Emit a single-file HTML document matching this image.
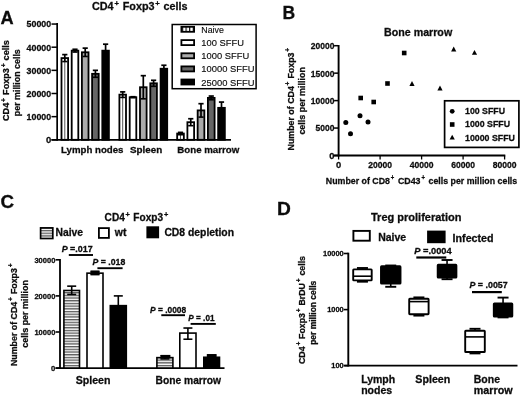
<!DOCTYPE html>
<html lang="en"><head><meta charset="utf-8"><title>Figure</title>
<style>
html,body{margin:0;padding:0;background:#fff;}
body{width:520px;height:395px;overflow:hidden;}
svg{display:block;filter:blur(0.45px);}
svg text{font-family:"Liberation Sans",Arial,sans-serif;fill:#0c0c0c;}
svg text[font-weight="bold"]{stroke:#0c0c0c;stroke-width:0.28px;}
</style></head><body>
<svg width="520" height="395" viewBox="0 0 520 395">
<defs>
<pattern id="vst" patternUnits="userSpaceOnUse" width="4.4" height="8" x="0" y="0"><rect width="4.4" height="8" fill="#fff"/><rect x="0" width="1.1" height="8" fill="#444"/></pattern>
<pattern id="hst" patternUnits="userSpaceOnUse" width="8" height="2.7" y="0.4"><rect width="8" height="2.7" fill="#fff"/><rect y="0" width="8" height="1.35" fill="#5a5a5a"/></pattern>
<pattern id="vst2" patternUnits="userSpaceOnUse" width="3.6" height="8" x="181.9" y="0"><rect width="3.6" height="8" fill="#fff"/><rect x="0" width="1.2" height="8" fill="#111"/></pattern>
</defs>
<rect width="520" height="395" fill="#fff"/>

<g id="panelA">
<text x="0.6" y="23.7" font-size="18.2" font-weight="bold" text-anchor="start" >A</text>
<text x="92" y="9.8" font-size="10.8" font-weight="bold">CD4<tspan dx="0.8" dy="-4.3" font-size="7.6">+</tspan><tspan dx="0.9" dy="4.3"> </tspan>Foxp3<tspan dx="0.8" dy="-4.3" font-size="7.6">+</tspan><tspan dx="0.6" dy="4.3"> </tspan>cells</text>
<text x="9.3" y="121" font-size="9.1" font-weight="bold" transform="rotate(-90 9.3 121)">CD4<tspan dx="0.8" dy="-3.6" font-size="6.8">+</tspan><tspan dx="0.6" dy="3.6"> </tspan>Foxp3<tspan dx="0.8" dy="-3.6" font-size="6.8">+</tspan><tspan dx="0.4" dy="3.6"> </tspan>cells</text>
<text x="19.8" y="116.2" font-size="9.1" font-weight="bold" textLength="67" lengthAdjust="spacingAndGlyphs" transform="rotate(-90 19.8 116.2)">per million cells</text>
<line x1="57.15" y1="22.9" x2="57.15" y2="140.65" stroke="#000" stroke-width="1.7"/>
<line x1="51.5" y1="139.8" x2="231" y2="139.8" stroke="#000" stroke-width="1.7"/>
<line x1="51.5" y1="139.8" x2="57.5" y2="139.8" stroke="#000" stroke-width="1.5"/>
<text x="51.2" y="143.20000000000002" font-size="9.5" font-weight="bold" text-anchor="end" >0</text>
<line x1="51.5" y1="116.65" x2="57.5" y2="116.65" stroke="#000" stroke-width="1.5"/>
<text x="51.2" y="120.05000000000001" font-size="9.5" font-weight="bold" text-anchor="end" textLength="24.6" lengthAdjust="spacingAndGlyphs" >10000</text>
<line x1="51.5" y1="93.50000000000001" x2="57.5" y2="93.50000000000001" stroke="#000" stroke-width="1.5"/>
<text x="51.2" y="96.90000000000002" font-size="9.5" font-weight="bold" text-anchor="end" textLength="24.6" lengthAdjust="spacingAndGlyphs" >20000</text>
<line x1="51.5" y1="70.35000000000002" x2="57.5" y2="70.35000000000002" stroke="#000" stroke-width="1.5"/>
<text x="51.2" y="73.75000000000003" font-size="9.5" font-weight="bold" text-anchor="end" textLength="24.6" lengthAdjust="spacingAndGlyphs" >30000</text>
<line x1="51.5" y1="47.20000000000002" x2="57.5" y2="47.20000000000002" stroke="#000" stroke-width="1.5"/>
<text x="51.2" y="50.600000000000016" font-size="9.5" font-weight="bold" text-anchor="end" textLength="24.6" lengthAdjust="spacingAndGlyphs" >40000</text>
<line x1="51.5" y1="24.050000000000026" x2="57.5" y2="24.050000000000026" stroke="#000" stroke-width="1.5"/>
<text x="51.2" y="27.450000000000024" font-size="9.5" font-weight="bold" text-anchor="end" textLength="24.6" lengthAdjust="spacingAndGlyphs" >50000</text>
<line x1="64.8" y1="54.60800000000002" x2="64.8" y2="61.553000000000026" stroke="#000" stroke-width="1.7"/>
<line x1="62.199999999999996" y1="54.60800000000002" x2="67.39999999999999" y2="54.60800000000002" stroke="#000" stroke-width="1.7"/>
<rect x="61.5" y="58.080500000000015" width="6.6" height="81.7195" fill="#fff" stroke="#000" stroke-width="1.8"/>
<line x1="64.8" y1="58.78050000000002" x2="64.8" y2="139.10000000000002" stroke="#555" stroke-width="1.0"/>
<line x1="64.8" y1="58.080500000000015" x2="64.8" y2="61.553000000000026" stroke="#000" stroke-width="1.7"/>
<line x1="62.199999999999996" y1="61.553000000000026" x2="67.39999999999999" y2="61.553000000000026" stroke="#000" stroke-width="1.6"/>
<line x1="75.0" y1="49.28350000000002" x2="75.0" y2="52.061500000000024" stroke="#000" stroke-width="1.7"/>
<line x1="72.4" y1="49.28350000000002" x2="77.6" y2="49.28350000000002" stroke="#000" stroke-width="1.7"/>
<rect x="71.7" y="50.672500000000014" width="6.6" height="89.1275" fill="#fff" stroke="#000" stroke-width="1.8"/>
<line x1="75.0" y1="50.672500000000014" x2="75.0" y2="52.061500000000024" stroke="#000" stroke-width="1.7"/>
<line x1="72.4" y1="52.061500000000024" x2="77.6" y2="52.061500000000024" stroke="#000" stroke-width="1.6"/>
<line x1="85.2" y1="48.12600000000002" x2="85.2" y2="56.46000000000002" stroke="#000" stroke-width="1.7"/>
<line x1="82.60000000000001" y1="48.12600000000002" x2="87.8" y2="48.12600000000002" stroke="#000" stroke-width="1.7"/>
<rect x="81.9" y="52.29300000000002" width="6.6" height="87.50699999999999" fill="#aaa" stroke="#000" stroke-width="1.8"/>
<line x1="85.2" y1="52.29300000000002" x2="85.2" y2="56.46000000000002" stroke="#000" stroke-width="1.7"/>
<line x1="82.60000000000001" y1="56.46000000000002" x2="87.8" y2="56.46000000000002" stroke="#000" stroke-width="1.6"/>
<line x1="95.39999999999999" y1="70.35000000000002" x2="95.39999999999999" y2="77.29500000000002" stroke="#000" stroke-width="1.7"/>
<line x1="92.8" y1="70.35000000000002" x2="97.99999999999999" y2="70.35000000000002" stroke="#000" stroke-width="1.7"/>
<rect x="92.1" y="73.82250000000002" width="6.6" height="65.97749999999999" fill="#666" stroke="#000" stroke-width="1.8"/>
<line x1="95.39999999999999" y1="73.82250000000002" x2="95.39999999999999" y2="77.29500000000002" stroke="#000" stroke-width="1.7"/>
<line x1="92.8" y1="77.29500000000002" x2="97.99999999999999" y2="77.29500000000002" stroke="#000" stroke-width="1.6"/>
<line x1="105.6" y1="44.190500000000014" x2="105.6" y2="50.672500000000014" stroke="#000" stroke-width="1.7"/>
<line x1="103.0" y1="44.190500000000014" x2="108.19999999999999" y2="44.190500000000014" stroke="#000" stroke-width="1.7"/>
<rect x="102.3" y="50.672500000000014" width="6.6" height="89.1275" fill="#000" stroke="#000" stroke-width="1.8"/>
<line x1="122.7" y1="91.87950000000001" x2="122.7" y2="97.43550000000002" stroke="#000" stroke-width="1.7"/>
<line x1="120.10000000000001" y1="91.87950000000001" x2="125.3" y2="91.87950000000001" stroke="#000" stroke-width="1.7"/>
<rect x="119.4" y="94.65750000000001" width="6.6" height="45.1425" fill="#fff" stroke="#000" stroke-width="1.8"/>
<line x1="122.7" y1="95.35750000000002" x2="122.7" y2="139.10000000000002" stroke="#555" stroke-width="1.0"/>
<line x1="122.7" y1="94.65750000000001" x2="122.7" y2="97.43550000000002" stroke="#000" stroke-width="1.7"/>
<line x1="120.10000000000001" y1="97.43550000000002" x2="125.3" y2="97.43550000000002" stroke="#000" stroke-width="1.6"/>
<line x1="133.00000000000003" y1="96.74100000000001" x2="133.00000000000003" y2="97.66700000000002" stroke="#000" stroke-width="1.7"/>
<line x1="130.40000000000003" y1="96.74100000000001" x2="135.60000000000002" y2="96.74100000000001" stroke="#000" stroke-width="1.7"/>
<rect x="129.70000000000002" y="97.20400000000001" width="6.6" height="42.596000000000004" fill="#fff" stroke="#000" stroke-width="1.8"/>
<line x1="133.00000000000003" y1="97.20400000000001" x2="133.00000000000003" y2="97.66700000000002" stroke="#000" stroke-width="1.7"/>
<line x1="130.40000000000003" y1="97.66700000000002" x2="135.60000000000002" y2="97.66700000000002" stroke="#000" stroke-width="1.6"/>
<line x1="143.3" y1="75.67450000000002" x2="143.3" y2="98.82450000000001" stroke="#000" stroke-width="1.7"/>
<line x1="140.70000000000002" y1="75.67450000000002" x2="145.9" y2="75.67450000000002" stroke="#000" stroke-width="1.7"/>
<rect x="140.0" y="87.24950000000001" width="6.6" height="52.5505" fill="#aaa" stroke="#000" stroke-width="1.8"/>
<line x1="143.3" y1="87.24950000000001" x2="143.3" y2="98.82450000000001" stroke="#000" stroke-width="1.7"/>
<line x1="140.70000000000002" y1="98.82450000000001" x2="145.9" y2="98.82450000000001" stroke="#000" stroke-width="1.6"/>
<line x1="153.60000000000002" y1="80.30450000000002" x2="153.60000000000002" y2="86.32350000000002" stroke="#000" stroke-width="1.7"/>
<line x1="151.00000000000003" y1="80.30450000000002" x2="156.20000000000002" y2="80.30450000000002" stroke="#000" stroke-width="1.7"/>
<rect x="150.3" y="83.31400000000002" width="6.6" height="56.48599999999999" fill="#666" stroke="#000" stroke-width="1.8"/>
<line x1="153.60000000000002" y1="83.31400000000002" x2="153.60000000000002" y2="86.32350000000002" stroke="#000" stroke-width="1.7"/>
<line x1="151.00000000000003" y1="86.32350000000002" x2="156.20000000000002" y2="86.32350000000002" stroke="#000" stroke-width="1.6"/>
<line x1="163.90000000000003" y1="65.25700000000002" x2="163.90000000000003" y2="68.72950000000002" stroke="#000" stroke-width="1.7"/>
<line x1="161.30000000000004" y1="65.25700000000002" x2="166.50000000000003" y2="65.25700000000002" stroke="#000" stroke-width="1.7"/>
<rect x="160.60000000000002" y="68.72950000000002" width="6.6" height="71.0705" fill="#000" stroke="#000" stroke-width="1.8"/>
<line x1="180.5" y1="132.39200000000002" x2="180.5" y2="134.70700000000002" stroke="#000" stroke-width="1.7"/>
<line x1="177.9" y1="132.39200000000002" x2="183.1" y2="132.39200000000002" stroke="#000" stroke-width="1.7"/>
<rect x="177.15" y="133.54950000000002" width="6.7" height="6.250499999999988" fill="#fff" stroke="#000" stroke-width="1.8"/>
<line x1="180.5" y1="134.2495" x2="180.5" y2="139.10000000000002" stroke="#555" stroke-width="1.0"/>
<line x1="180.5" y1="133.54950000000002" x2="180.5" y2="134.70700000000002" stroke="#000" stroke-width="1.7"/>
<line x1="177.9" y1="134.70700000000002" x2="183.1" y2="134.70700000000002" stroke="#000" stroke-width="1.6"/>
<line x1="190.75" y1="118.73350000000002" x2="190.75" y2="125.67850000000001" stroke="#000" stroke-width="1.7"/>
<line x1="188.15" y1="118.73350000000002" x2="193.35" y2="118.73350000000002" stroke="#000" stroke-width="1.7"/>
<rect x="187.4" y="122.20600000000002" width="6.7" height="17.593999999999994" fill="#fff" stroke="#000" stroke-width="1.8"/>
<line x1="190.75" y1="122.20600000000002" x2="190.75" y2="125.67850000000001" stroke="#000" stroke-width="1.7"/>
<line x1="188.15" y1="125.67850000000001" x2="193.35" y2="125.67850000000001" stroke="#000" stroke-width="1.6"/>
<line x1="201.0" y1="103.686" x2="201.0" y2="117.11300000000001" stroke="#000" stroke-width="1.7"/>
<line x1="198.4" y1="103.686" x2="203.6" y2="103.686" stroke="#000" stroke-width="1.7"/>
<rect x="197.65" y="110.39950000000002" width="6.7" height="29.400499999999994" fill="#aaa" stroke="#000" stroke-width="1.8"/>
<line x1="201.0" y1="110.39950000000002" x2="201.0" y2="117.11300000000001" stroke="#000" stroke-width="1.7"/>
<line x1="198.4" y1="117.11300000000001" x2="203.6" y2="117.11300000000001" stroke="#000" stroke-width="1.6"/>
<line x1="211.25" y1="96.04650000000001" x2="211.25" y2="99.75050000000002" stroke="#000" stroke-width="1.7"/>
<line x1="208.65" y1="96.04650000000001" x2="213.85" y2="96.04650000000001" stroke="#000" stroke-width="1.7"/>
<rect x="207.9" y="97.89850000000001" width="6.7" height="41.9015" fill="#666" stroke="#000" stroke-width="1.8"/>
<line x1="211.25" y1="97.89850000000001" x2="211.25" y2="99.75050000000002" stroke="#000" stroke-width="1.7"/>
<line x1="208.65" y1="99.75050000000002" x2="213.85" y2="99.75050000000002" stroke="#000" stroke-width="1.6"/>
<line x1="221.5" y1="102.06550000000001" x2="221.5" y2="107.85300000000001" stroke="#000" stroke-width="1.7"/>
<line x1="218.9" y1="102.06550000000001" x2="224.1" y2="102.06550000000001" stroke="#000" stroke-width="1.7"/>
<rect x="218.15" y="107.85300000000001" width="6.7" height="31.947000000000003" fill="#000" stroke="#000" stroke-width="1.8"/>
<text x="61" y="153" font-size="9.6" font-weight="bold" text-anchor="start" textLength="62.5" lengthAdjust="spacingAndGlyphs" >Lymph nodes</text>
<text x="130" y="153" font-size="9.6" font-weight="bold" text-anchor="start" textLength="32.3" lengthAdjust="spacingAndGlyphs" >Spleen</text>
<text x="177.3" y="153" font-size="9.6" font-weight="bold" text-anchor="start" textLength="62" lengthAdjust="spacingAndGlyphs" >Bone marrow</text>
<rect x="172.2" y="24.5" width="83.9" height="64.2" fill="#fff" stroke="#000" stroke-width="1.5"/>
<rect x="181.4" y="26.8" width="12.7" height="5.0" fill="url(#vst2)" stroke="#000" stroke-width="1.8"/>
<text x="201.3" y="32.8" font-size="9.8" font-weight="normal" text-anchor="start" textLength="22.6" lengthAdjust="spacingAndGlyphs" stroke="#111" stroke-width="0.15">Naive</text>
<rect x="181.4" y="40.1" width="12.7" height="5.0" fill="#fff" stroke="#000" stroke-width="1.8"/>
<text x="201.3" y="46.1" font-size="9.8" font-weight="normal" text-anchor="start" textLength="42.6" lengthAdjust="spacingAndGlyphs" stroke="#111" stroke-width="0.15">100 SFFU</text>
<rect x="181.4" y="53.3" width="12.7" height="5.0" fill="#aaa" stroke="#000" stroke-width="1.8"/>
<text x="201.3" y="59.3" font-size="9.8" font-weight="normal" text-anchor="start" textLength="47.9" lengthAdjust="spacingAndGlyphs" stroke="#111" stroke-width="0.15">1000 SFFU</text>
<rect x="181.4" y="66.4" width="12.7" height="5.0" fill="#666" stroke="#000" stroke-width="1.8"/>
<text x="201.3" y="72.4" font-size="9.8" font-weight="normal" text-anchor="start" textLength="53.2" lengthAdjust="spacingAndGlyphs" stroke="#111" stroke-width="0.15">10000 SFFU</text>
<rect x="181.4" y="79.5" width="12.7" height="5.0" fill="#000" stroke="#000" stroke-width="1.8"/>
<text x="201.3" y="85.5" font-size="9.8" font-weight="normal" text-anchor="start" textLength="53.2" lengthAdjust="spacingAndGlyphs" stroke="#111" stroke-width="0.15">25000 SFFU</text>
</g>
<g id="panelB">
<text x="282.5" y="19" font-size="17.5" font-weight="bold" text-anchor="start" >B</text>
<text x="384" y="36.3" font-size="10.5" font-weight="bold" text-anchor="start" textLength="68.2" lengthAdjust="spacingAndGlyphs" >Bone marrow</text>
<line x1="338.6" y1="45" x2="338.6" y2="156.4" stroke="#000" stroke-width="1.9"/>
<line x1="334.1" y1="155.5" x2="505.3" y2="155.5" stroke="#000" stroke-width="1.9"/>
<line x1="334.1" y1="155.5" x2="338.6" y2="155.5" stroke="#000" stroke-width="1.5"/>
<text x="334.40000000000003" y="158.9" font-size="9.4" font-weight="bold" text-anchor="end" >0</text>
<line x1="334.1" y1="128.05" x2="338.6" y2="128.05" stroke="#000" stroke-width="1.5"/>
<text x="334.40000000000003" y="131.45000000000002" font-size="9.4" font-weight="bold" text-anchor="end" textLength="18.88" lengthAdjust="spacingAndGlyphs" >5000</text>
<line x1="334.1" y1="100.6" x2="338.6" y2="100.6" stroke="#000" stroke-width="1.5"/>
<text x="334.40000000000003" y="104.0" font-size="9.4" font-weight="bold" text-anchor="end" textLength="23.599999999999998" lengthAdjust="spacingAndGlyphs" >10000</text>
<line x1="334.1" y1="73.15" x2="338.6" y2="73.15" stroke="#000" stroke-width="1.5"/>
<text x="334.40000000000003" y="76.55000000000001" font-size="9.4" font-weight="bold" text-anchor="end" textLength="23.599999999999998" lengthAdjust="spacingAndGlyphs" >15000</text>
<line x1="334.1" y1="45.7" x2="338.6" y2="45.7" stroke="#000" stroke-width="1.5"/>
<text x="334.40000000000003" y="49.1" font-size="9.4" font-weight="bold" text-anchor="end" textLength="23.599999999999998" lengthAdjust="spacingAndGlyphs" >20000</text>
<line x1="338.6" y1="155.5" x2="338.6" y2="159.5" stroke="#000" stroke-width="1.3"/>
<text x="338.6" y="168" font-size="9.4" font-weight="bold" text-anchor="middle" >0</text>
<line x1="380.1" y1="155.5" x2="380.1" y2="159.5" stroke="#000" stroke-width="1.3"/>
<text x="380.1" y="168" font-size="9.4" font-weight="bold" text-anchor="middle" textLength="23.8" lengthAdjust="spacingAndGlyphs" >20000</text>
<line x1="421.6" y1="155.5" x2="421.6" y2="159.5" stroke="#000" stroke-width="1.3"/>
<text x="421.6" y="168" font-size="9.4" font-weight="bold" text-anchor="middle" textLength="23.8" lengthAdjust="spacingAndGlyphs" >40000</text>
<line x1="463.1" y1="155.5" x2="463.1" y2="159.5" stroke="#000" stroke-width="1.3"/>
<text x="463.1" y="168" font-size="9.4" font-weight="bold" text-anchor="middle" textLength="23.8" lengthAdjust="spacingAndGlyphs" >60000</text>
<line x1="504.6" y1="155.5" x2="504.6" y2="159.5" stroke="#000" stroke-width="1.3"/>
<text x="504.6" y="168" font-size="9.4" font-weight="bold" text-anchor="middle" textLength="23.8" lengthAdjust="spacingAndGlyphs" >80000</text>
<circle cx="345.8" cy="122.4" r="2.5" fill="#000"/>
<circle cx="350.5" cy="133.7" r="2.5" fill="#000"/>
<circle cx="360" cy="115.7" r="2.5" fill="#000"/>
<circle cx="368" cy="122" r="2.5" fill="#000"/>
<rect x="358.4" y="95.7" width="4.6" height="4.6" fill="#000"/>
<rect x="371.4" y="99.7" width="4.6" height="4.6" fill="#000"/>
<rect x="385.2" y="81.2" width="4.6" height="4.6" fill="#000"/>
<rect x="401.9" y="50.7" width="4.6" height="4.6" fill="#000"/>
<polygon points="412,81.10000000000001 414.6,85.91 409.4,85.91" fill="#000"/>
<polygon points="440,85.60000000000001 442.6,90.41 437.4,90.41" fill="#000"/>
<polygon points="453.7,46.6 456.3,51.410000000000004 451.09999999999997,51.410000000000004" fill="#000"/>
<polygon points="474.5,49.9 477.1,54.71 471.9,54.71" fill="#000"/>
<rect x="444.6" y="100.8" width="74.3" height="46.6" fill="#fff" stroke="#000" stroke-width="1.7"/>
<circle cx="452.2" cy="111.3" r="2.4" fill="#000"/>
<rect x="449.9" y="122.2" width="4.6" height="4.6" fill="#000"/>
<polygon points="452.2,134.8 454.8,139.61 449.59999999999997,139.61" fill="#000"/>
<text x="465" y="114.2" font-size="9.6" font-weight="bold" text-anchor="start" textLength="40" lengthAdjust="spacingAndGlyphs" >100 SFFU</text>
<text x="465" y="127.4" font-size="9.6" font-weight="bold" text-anchor="start" textLength="45" lengthAdjust="spacingAndGlyphs" >1000 SFFU</text>
<text x="465" y="140.5" font-size="9.6" font-weight="bold" text-anchor="start" textLength="50" lengthAdjust="spacingAndGlyphs" >10000 SFFU</text>
<text x="325.8" y="183.7" font-size="9.7" font-weight="bold" textLength="191.4" lengthAdjust="spacingAndGlyphs">Number of CD8<tspan dx="1.0" dy="-3.5" font-size="6.5">+</tspan><tspan dx="1.3" dy="3.5"> </tspan>CD43<tspan dx="1.0" dy="-3.5" font-size="6.5">+</tspan><tspan dx="1.3" dy="3.5"> </tspan>cells per million cells</text>
<text x="294" y="150.5" font-size="9.1" font-weight="bold" textLength="102.6" lengthAdjust="spacingAndGlyphs" transform="rotate(-90 294 150.5)">Number of CD4<tspan dx="0.8" dy="-3.6" font-size="6.8">+</tspan><tspan dx="0.5" dy="3.6"> </tspan>Foxp3<tspan dx="0.8" dy="-3.6" font-size="6.8">+</tspan><tspan dx="0" dy="3.6"> </tspan></text>
<text x="304.8" y="134.6" font-size="9.2" font-weight="bold" textLength="67.5" lengthAdjust="spacingAndGlyphs" transform="rotate(-90 304.8 134.6)">cells per million</text>
</g>
<g id="panelC">
<text x="0.6" y="208.1" font-size="18.8" font-weight="bold" text-anchor="start" >C</text>
<text x="104.6" y="221.3" font-size="10.1" font-weight="bold">CD4<tspan dx="0.8" dy="-4.1" font-size="7.4">+</tspan><tspan dx="0.6" dy="4.1"> </tspan>Foxp3<tspan dx="0.8" dy="-4.1" font-size="7.4">+</tspan><tspan dx="0" dy="4.1"> </tspan></text>
<rect x="40.6" y="227.9" width="12.2" height="10.6" fill="url(#hst)" stroke="#000" stroke-width="1.7"/>
<text x="55.5" y="236.2" font-size="10.5" font-weight="bold" text-anchor="start" textLength="27.6" lengthAdjust="spacingAndGlyphs" >Naive</text>
<rect x="98.9" y="228.1" width="10" height="9.8" fill="#fff" stroke="#000" stroke-width="1.8"/>
<text x="114.8" y="236.2" font-size="10.5" font-weight="bold" text-anchor="start" textLength="11.6" lengthAdjust="spacingAndGlyphs" >wt</text>
<rect x="146.4" y="226.3" width="12.7" height="12" fill="#000" stroke="#000" stroke-width="0"/>
<text x="164.4" y="236.2" font-size="10.5" font-weight="bold" text-anchor="start" textLength="69.6" lengthAdjust="spacingAndGlyphs" >CD8 depletion</text>
<line x1="60.0" y1="259" x2="60.0" y2="368.95000000000005" stroke="#000" stroke-width="1.8"/>
<line x1="55.6" y1="368.1" x2="224.5" y2="368.1" stroke="#000" stroke-width="1.8"/>
<line x1="55.6" y1="368.1" x2="60" y2="368.1" stroke="#000" stroke-width="1.6"/>
<text x="55.4" y="370.90000000000003" font-size="7.7" font-weight="bold" text-anchor="end" >0</text>
<line x1="55.6" y1="332.0" x2="60" y2="332.0" stroke="#000" stroke-width="1.6"/>
<text x="55.4" y="334.8" font-size="7.7" font-weight="bold" text-anchor="end" textLength="21.0" lengthAdjust="spacingAndGlyphs" >10000</text>
<line x1="55.6" y1="295.90000000000003" x2="60" y2="295.90000000000003" stroke="#000" stroke-width="1.6"/>
<text x="55.4" y="298.70000000000005" font-size="7.7" font-weight="bold" text-anchor="end" textLength="21.0" lengthAdjust="spacingAndGlyphs" >20000</text>
<line x1="55.6" y1="259.8" x2="60" y2="259.8" stroke="#000" stroke-width="1.6"/>
<text x="55.4" y="262.6" font-size="7.7" font-weight="bold" text-anchor="end" textLength="21.0" lengthAdjust="spacingAndGlyphs" >30000</text>
<line x1="71.7" y1="286.153" x2="71.7" y2="290.485" stroke="#000" stroke-width="1.6"/>
<line x1="67.2" y1="286.153" x2="76.2" y2="286.153" stroke="#000" stroke-width="1.6"/>
<rect x="63.9" y="290.485" width="15.6" height="77.61500000000001" fill="url(#hst)" stroke="#000" stroke-width="1.6"/>
<line x1="71.7" y1="290.485" x2="71.7" y2="294.456" stroke="#000" stroke-width="1.6"/>
<line x1="67.2" y1="294.456" x2="76.2" y2="294.456" stroke="#000" stroke-width="1.6"/>
<line x1="95.0" y1="271.5325" x2="95.0" y2="273.15700000000004" stroke="#000" stroke-width="1.6"/>
<line x1="90.5" y1="271.5325" x2="99.5" y2="271.5325" stroke="#000" stroke-width="1.6"/>
<rect x="87" y="273.15700000000004" width="16" height="94.94299999999998" fill="#fff" stroke="#000" stroke-width="1.6"/>
<line x1="95.0" y1="273.15700000000004" x2="95.0" y2="274.601" stroke="#000" stroke-width="1.6"/>
<line x1="90.5" y1="274.601" x2="99.5" y2="274.601" stroke="#000" stroke-width="1.6"/>
<rect x="90.6" y="270.6" width="8.8" height="4.3" fill="#000" stroke="#000" stroke-width="0"/>
<line x1="118.3" y1="295.90000000000003" x2="118.3" y2="305.64700000000005" stroke="#000" stroke-width="1.6"/>
<line x1="113.8" y1="295.90000000000003" x2="122.8" y2="295.90000000000003" stroke="#000" stroke-width="1.6"/>
<rect x="110.3" y="305.64700000000005" width="16.0" height="62.452999999999975" fill="#000" stroke="#000" stroke-width="1.6"/>
<line x1="164.9" y1="355.826" x2="164.9" y2="357.63100000000003" stroke="#000" stroke-width="1.6"/>
<line x1="160.4" y1="355.826" x2="169.4" y2="355.826" stroke="#000" stroke-width="1.6"/>
<rect x="156.9" y="357.63100000000003" width="16.0" height="10.468999999999994" fill="url(#hst)" stroke="#000" stroke-width="1.6"/>
<line x1="164.9" y1="357.63100000000003" x2="164.9" y2="358.8945" stroke="#000" stroke-width="1.6"/>
<line x1="160.4" y1="358.8945" x2="169.4" y2="358.8945" stroke="#000" stroke-width="1.6"/>
<rect x="160.6" y="354.9" width="9.8" height="3.3" fill="#000" stroke="#000" stroke-width="0"/>
<line x1="187.9" y1="328.029" x2="187.9" y2="333.083" stroke="#000" stroke-width="1.6"/>
<line x1="183.4" y1="328.029" x2="192.4" y2="328.029" stroke="#000" stroke-width="1.6"/>
<rect x="179.8" y="333.083" width="16.2" height="35.016999999999996" fill="#fff" stroke="#000" stroke-width="1.6"/>
<line x1="187.9" y1="333.083" x2="187.9" y2="339.22" stroke="#000" stroke-width="1.6"/>
<line x1="183.4" y1="339.22" x2="192.4" y2="339.22" stroke="#000" stroke-width="1.6"/>
<line x1="211.65" y1="355.10400000000004" x2="211.65" y2="357.27000000000004" stroke="#000" stroke-width="1.6"/>
<line x1="207.15" y1="355.10400000000004" x2="216.15" y2="355.10400000000004" stroke="#000" stroke-width="1.6"/>
<rect x="203.8" y="357.27000000000004" width="15.7" height="10.829999999999984" fill="#000" stroke="#000" stroke-width="1.6"/>
<rect x="206.8" y="354.1" width="9.8" height="3.2" fill="#000" stroke="#000" stroke-width="0"/>
<text x="61.7" y="251.7" font-size="8.6" font-weight="bold" textLength="31" lengthAdjust="spacingAndGlyphs"><tspan font-style="italic">P</tspan> =.017</text>
<line x1="68.8" y1="255" x2="93" y2="255" stroke="#000" stroke-width="1.9"/>
<text x="92.6" y="265.1" font-size="8.6" font-weight="bold" textLength="32.7" lengthAdjust="spacingAndGlyphs"><tspan font-style="italic">P</tspan> = .018</text>
<line x1="97.4" y1="268.2" x2="122.6" y2="268.2" stroke="#000" stroke-width="1.9"/>
<text x="150" y="312.6" font-size="8.6" font-weight="bold" textLength="36.2" lengthAdjust="spacingAndGlyphs"><tspan font-style="italic">P</tspan> = .0008</text>
<line x1="161.3" y1="315.2" x2="185" y2="315.2" stroke="#000" stroke-width="1.9"/>
<text x="188.3" y="321.1" font-size="8.6" font-weight="bold" textLength="26.2" lengthAdjust="spacingAndGlyphs"><tspan font-style="italic">P</tspan> = .01</text>
<line x1="190.6" y1="323.9" x2="215.8" y2="323.9" stroke="#000" stroke-width="1.9"/>
<text x="75.7" y="383.6" font-size="10.7" font-weight="bold" text-anchor="start" textLength="34.8" lengthAdjust="spacingAndGlyphs" >Spleen</text>
<text x="155.5" y="383.6" font-size="10.7" font-weight="bold" text-anchor="start" textLength="65.6" lengthAdjust="spacingAndGlyphs" >Bone marrow</text>
<text x="16.9" y="366" font-size="9.0" font-weight="bold" textLength="102.6" lengthAdjust="spacingAndGlyphs" transform="rotate(-90 16.9 366)">Number of CD4<tspan dx="0.8" dy="-3.6" font-size="6.8">+</tspan><tspan dx="0.5" dy="3.6"> </tspan>Foxp3<tspan dx="0.8" dy="-3.6" font-size="6.8">+</tspan><tspan dx="0" dy="3.6"> </tspan></text>
<text x="28.2" y="347.8" font-size="9.0" font-weight="bold" textLength="67.8" lengthAdjust="spacingAndGlyphs" transform="rotate(-90 28.2 347.8)">cells per million</text>
</g>
<g id="panelD">
<text x="277" y="214.8" font-size="19.2" font-weight="bold" text-anchor="start" >D</text>
<text x="371" y="220.8" font-size="10.6" font-weight="bold" text-anchor="start" textLength="90.5" lengthAdjust="spacingAndGlyphs" >Treg proliferation</text>
<rect x="353.4" y="230.9" width="16.4" height="9.8" fill="#fff" stroke="#000" stroke-width="1.9"/>
<text x="378.2" y="241.2" font-size="10.5" font-weight="bold" text-anchor="start" textLength="28" lengthAdjust="spacingAndGlyphs" >Naive</text>
<rect x="427.1" y="230.6" width="18.5" height="12.6" fill="#000" stroke="#000" stroke-width="0"/>
<text x="452.6" y="241.8" font-size="10.5" font-weight="bold" text-anchor="start" textLength="41" lengthAdjust="spacingAndGlyphs" >Infected</text>
<line x1="348.3" y1="252.7" x2="348.3" y2="366.5" stroke="#000" stroke-width="1.9"/>
<line x1="344.3" y1="365.6" x2="517.5" y2="365.6" stroke="#000" stroke-width="1.9"/>
<line x1="343.7" y1="253.5" x2="348.3" y2="253.5" stroke="#000" stroke-width="1.6"/>
<text x="343.7" y="256.3" font-size="7.7" font-weight="bold" text-anchor="end" textLength="20.7" lengthAdjust="spacingAndGlyphs" >10000</text>
<line x1="343.7" y1="309.6" x2="348.3" y2="309.6" stroke="#000" stroke-width="1.6"/>
<text x="343.7" y="312.40000000000003" font-size="7.7" font-weight="bold" text-anchor="end" textLength="16.56" lengthAdjust="spacingAndGlyphs" >1000</text>
<line x1="343.7" y1="365.6" x2="348.3" y2="365.6" stroke="#000" stroke-width="1.6"/>
<text x="343.7" y="368.40000000000003" font-size="7.7" font-weight="bold" text-anchor="end" textLength="12.419999999999998" lengthAdjust="spacingAndGlyphs" >100</text>
<line x1="362.45" y1="268" x2="362.45" y2="269.4" stroke="#000" stroke-width="1.6"/>
<line x1="356.95" y1="268" x2="367.95" y2="268" stroke="#000" stroke-width="1.9"/>
<line x1="362.45" y1="280.4" x2="362.45" y2="281.7" stroke="#000" stroke-width="1.6"/>
<line x1="356.95" y1="281.7" x2="367.95" y2="281.7" stroke="#000" stroke-width="1.9"/>
<rect x="353.2" y="269.4" width="18.5" height="11.0" rx="0.6" fill="#fff" stroke="#000" stroke-width="1.9"/>
<line x1="353.2" y1="276.2" x2="371.7" y2="276.2" stroke="#000" stroke-width="1.6"/>
<line x1="390.75" y1="265.5" x2="390.75" y2="266.3" stroke="#000" stroke-width="1.6"/>
<line x1="385.25" y1="265.5" x2="396.25" y2="265.5" stroke="#000" stroke-width="1.9"/>
<line x1="390.75" y1="283.6" x2="390.75" y2="286.8" stroke="#000" stroke-width="1.6"/>
<line x1="385.25" y1="286.8" x2="396.25" y2="286.8" stroke="#000" stroke-width="1.9"/>
<rect x="381" y="266.3" width="19.5" height="17.30000000000001" rx="0.6" fill="#000" stroke="#000" stroke-width="1.9"/>
<line x1="418.9" y1="297.4" x2="418.9" y2="298.8" stroke="#000" stroke-width="1.6"/>
<line x1="413.4" y1="297.4" x2="424.4" y2="297.4" stroke="#000" stroke-width="1.9"/>
<line x1="418.9" y1="314.2" x2="418.9" y2="315.6" stroke="#000" stroke-width="1.6"/>
<line x1="413.4" y1="315.6" x2="424.4" y2="315.6" stroke="#000" stroke-width="1.9"/>
<rect x="409.2" y="298.8" width="19.4" height="15.399999999999977" rx="0.6" fill="#fff" stroke="#000" stroke-width="1.9"/>
<line x1="409.2" y1="301.6" x2="428.59999999999997" y2="301.6" stroke="#000" stroke-width="1.6"/>
<line x1="447.05" y1="260" x2="447.05" y2="264.8" stroke="#000" stroke-width="1.6"/>
<line x1="441.55" y1="260" x2="452.55" y2="260" stroke="#000" stroke-width="1.9"/>
<line x1="447.05" y1="277.6" x2="447.05" y2="279.2" stroke="#000" stroke-width="1.6"/>
<line x1="441.55" y1="279.2" x2="452.55" y2="279.2" stroke="#000" stroke-width="1.9"/>
<rect x="437.7" y="264.8" width="18.7" height="12.800000000000011" rx="0.6" fill="#000" stroke="#000" stroke-width="1.9"/>
<line x1="475.0" y1="328.8" x2="475.0" y2="330.7" stroke="#000" stroke-width="1.6"/>
<line x1="469.5" y1="328.8" x2="480.5" y2="328.8" stroke="#000" stroke-width="1.9"/>
<line x1="475.0" y1="352" x2="475.0" y2="353.4" stroke="#000" stroke-width="1.6"/>
<line x1="469.5" y1="353.4" x2="480.5" y2="353.4" stroke="#000" stroke-width="1.9"/>
<rect x="465.2" y="330.7" width="19.6" height="21.30000000000001" rx="0.6" fill="#fff" stroke="#000" stroke-width="1.9"/>
<line x1="465.2" y1="336.9" x2="484.8" y2="336.9" stroke="#000" stroke-width="1.6"/>
<line x1="503.05" y1="297.6" x2="503.05" y2="303.4" stroke="#000" stroke-width="1.6"/>
<line x1="497.55" y1="297.6" x2="508.55" y2="297.6" stroke="#000" stroke-width="1.9"/>
<line x1="503.05" y1="316.6" x2="503.05" y2="317.4" stroke="#000" stroke-width="1.6"/>
<line x1="497.55" y1="317.4" x2="508.55" y2="317.4" stroke="#000" stroke-width="1.9"/>
<rect x="493.8" y="303.4" width="18.5" height="13.200000000000045" rx="0.6" fill="#000" stroke="#000" stroke-width="1.9"/>
<text x="414.3" y="253.8" font-size="8.6" font-weight="bold" textLength="37.4" lengthAdjust="spacingAndGlyphs"><tspan font-style="italic">P</tspan> =.0004</text>
<line x1="416.3" y1="257.5" x2="446.3" y2="257.5" stroke="#000" stroke-width="2.2"/>
<text x="469.5" y="287.6" font-size="8.6" font-weight="bold" textLength="38.2" lengthAdjust="spacingAndGlyphs"><tspan font-style="italic">P</tspan> = .0057</text>
<line x1="472" y1="292.1" x2="501.8" y2="292.1" stroke="#000" stroke-width="2.2"/>
<text x="361.2" y="382.6" font-size="10.6" font-weight="bold" text-anchor="start" textLength="34" lengthAdjust="spacingAndGlyphs" >Lymph</text>
<text x="361.2" y="394.4" font-size="10.6" font-weight="bold" text-anchor="start" textLength="31" lengthAdjust="spacingAndGlyphs" >nodes</text>
<text x="415.3" y="382.6" font-size="10.6" font-weight="bold" text-anchor="start" textLength="35" lengthAdjust="spacingAndGlyphs" >Spleen</text>
<text x="473.8" y="382.6" font-size="10.6" font-weight="bold" text-anchor="start" textLength="26.2" lengthAdjust="spacingAndGlyphs" >Bone</text>
<text x="473.8" y="394.4" font-size="10.6" font-weight="bold" text-anchor="start" textLength="38.8" lengthAdjust="spacingAndGlyphs" >marrow</text>
<text x="304.6" y="364" font-size="9.0" font-weight="bold" textLength="108" lengthAdjust="spacingAndGlyphs" transform="rotate(-90 304.6 364)">CD4<tspan dx="0.8" dy="-3.6" font-size="6.8">+</tspan><tspan dx="0.3" dy="3.6"> </tspan>Foxp3<tspan dx="0.8" dy="-3.6" font-size="6.8">+</tspan><tspan dx="0.3" dy="3.6"> </tspan>BrDU<tspan dx="0.8" dy="-3.6" font-size="6.8">+</tspan><tspan dx="0.3" dy="3.6"> </tspan>cells</text>
<text x="315.6" y="344.8" font-size="9.0" font-weight="bold" textLength="64" lengthAdjust="spacingAndGlyphs" transform="rotate(-90 315.6 344.8)">per million cells</text>
</g>
</svg></body></html>
